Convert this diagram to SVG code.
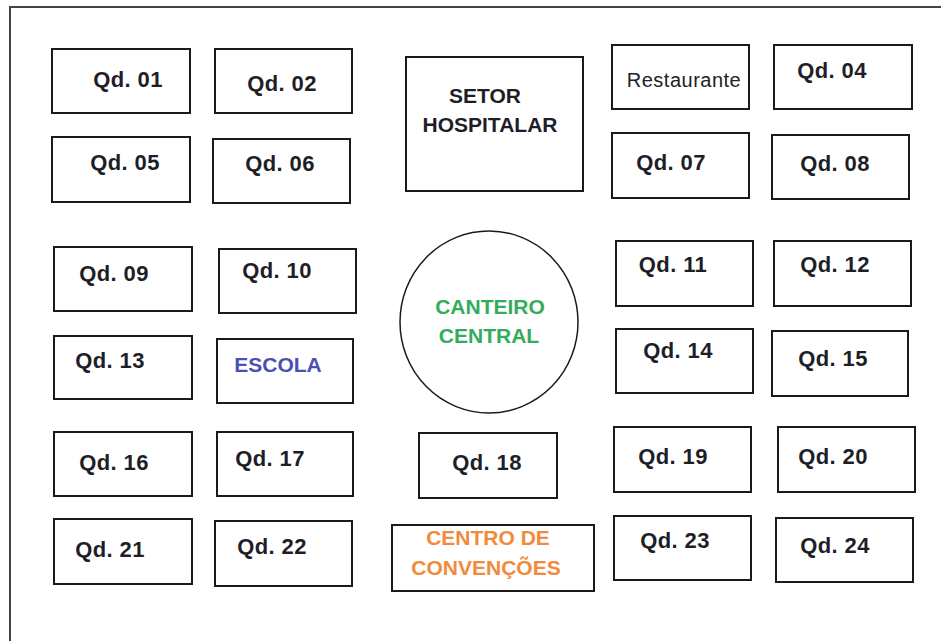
<svg xmlns="http://www.w3.org/2000/svg" width="941" height="641" viewBox="0 0 941 641">
<style>
.b{fill:#fff;stroke:#1a1a1a;stroke-width:2}
.q{font-family:"Liberation Sans",Arial,sans-serif;font-weight:bold;font-size:22px;fill:#1e1e28;text-anchor:middle;letter-spacing:0.4px}
.c{font-family:"Liberation Sans",Arial,sans-serif;font-weight:bold;font-size:21px;text-anchor:middle}
.r{font-family:"Liberation Sans",Arial,sans-serif;font-size:20px;fill:#222;text-anchor:middle;letter-spacing:0.5px}
</style>
<rect width="941" height="641" fill="#fff"/>
<path d="M10,641 V7 H941" fill="none" stroke="#444" stroke-width="2"/>
<g id="qd01"><rect class="b" x="52" y="49" width="138" height="64"/><text class="q" x="128" y="87">Qd. 01</text></g>
<g id="qd02"><rect class="b" x="215" y="49" width="137" height="64"/><text class="q" x="282" y="91">Qd. 02</text></g>
<g id="qd05"><rect class="b" x="52" y="137" width="138" height="65"/><text class="q" x="125" y="170">Qd. 05</text></g>
<g id="qd06"><rect class="b" x="213" y="139" width="137" height="64"/><text class="q" x="280" y="171">Qd. 06</text></g>
<g id="setor"><rect class="b" x="406" y="57" width="177" height="134"/><text class="c" fill="#1e1e28"><tspan x="485" y="103">SETOR</tspan><tspan x="490" y="132">HOSPITALAR</tspan></text></g>
<g id="restaurante"><rect class="b" x="612" y="45" width="137" height="64"/><text class="r" x="684" y="87">Restaurante</text></g>
<g id="qd04"><rect class="b" x="774" y="45" width="138" height="64"/><text class="q" x="832" y="78">Qd. 04</text></g>
<g id="qd07"><rect class="b" x="612" y="133" width="137" height="65"/><text class="q" x="671" y="170">Qd. 07</text></g>
<g id="qd08"><rect class="b" x="772" y="135" width="137" height="64"/><text class="q" x="835" y="171">Qd. 08</text></g>
<g id="qd09"><rect class="b" x="54" y="247" width="138" height="64"/><text class="q" x="114" y="281">Qd. 09</text></g>
<g id="qd10"><rect class="b" x="219" y="249" width="137" height="64"/><text class="q" x="277" y="278">Qd. 10</text></g>
<g id="qd13"><rect class="b" x="54" y="336" width="138" height="63"/><text class="q" x="110" y="368">Qd. 13</text></g>
<g id="escola"><rect class="b" x="217" y="339" width="136" height="64"/><text class="c" fill="#4b50b5" x="278" y="372">ESCOLA</text></g>
<g id="canteiro"><ellipse cx="489" cy="322" rx="89" ry="91" fill="#fff" stroke="#1a1a1a" stroke-width="1.5"/><text class="c" fill="#35ab5c"><tspan x="490" y="314">CANTEIRO</tspan><tspan x="489" y="343">CENTRAL</tspan></text></g>
<g id="qd11"><rect class="b" x="616" y="241" width="137" height="65"/><text class="q" x="673" y="272">Qd. 11</text></g>
<g id="qd12"><rect class="b" x="774" y="241" width="137" height="65"/><text class="q" x="835" y="272">Qd. 12</text></g>
<g id="qd14"><rect class="b" x="616" y="329" width="137" height="64"/><text class="q" x="678" y="358">Qd. 14</text></g>
<g id="qd15"><rect class="b" x="772" y="331" width="136" height="65"/><text class="q" x="833" y="366">Qd. 15</text></g>
<g id="qd16"><rect class="b" x="54" y="432" width="138" height="64"/><text class="q" x="114" y="470">Qd. 16</text></g>
<g id="qd17"><rect class="b" x="217" y="432" width="136" height="64"/><text class="q" x="270" y="466">Qd. 17</text></g>
<g id="qd18"><rect class="b" x="419" y="433" width="138" height="65"/><text class="q" x="487" y="470">Qd. 18</text></g>
<g id="qd19"><rect class="b" x="614" y="427" width="137" height="65"/><text class="q" x="673" y="464">Qd. 19</text></g>
<g id="qd20"><rect class="b" x="778" y="427" width="137" height="65"/><text class="q" x="833" y="464">Qd. 20</text></g>
<g id="qd21"><rect class="b" x="54" y="519" width="138" height="65"/><text class="q" x="110" y="557">Qd. 21</text></g>
<g id="qd22"><rect class="b" x="215" y="521" width="137" height="65"/><text class="q" x="272" y="554">Qd. 22</text></g>
<g id="centro"><rect class="b" x="392" y="525" width="202" height="66"/><text class="c" fill="#f28a3e"><tspan x="488" y="545">CENTRO DE</tspan><tspan x="486" y="575">CONVENÇÕES</tspan></text></g>
<g id="qd23"><rect class="b" x="614" y="516" width="137" height="64"/><text class="q" x="675" y="548">Qd. 23</text></g>
<g id="qd24"><rect class="b" x="776" y="518" width="137" height="64"/><text class="q" x="835" y="553">Qd. 24</text></g>
<g id="connectors"/>
</svg>
